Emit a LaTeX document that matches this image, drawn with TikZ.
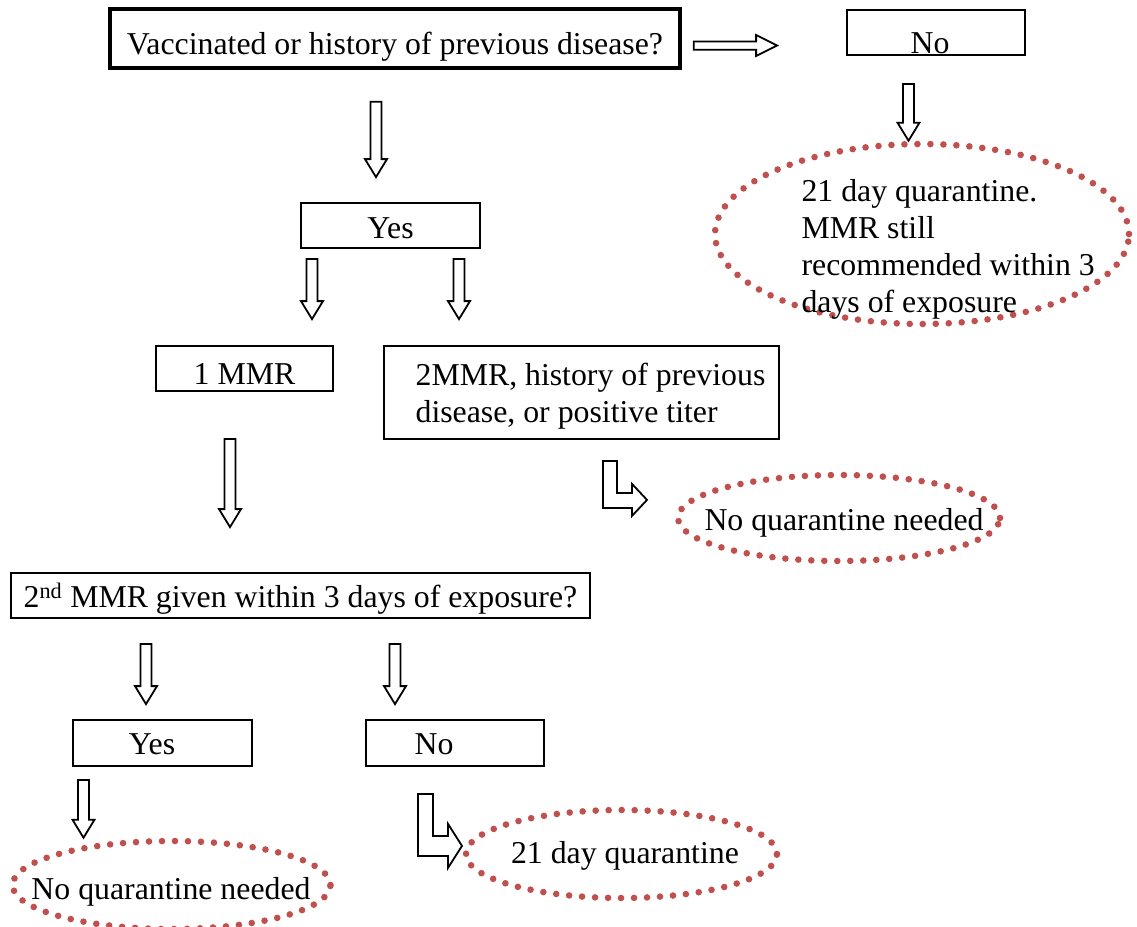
\documentclass[tikz,border=0pt]{standalone}
\usepackage{fontspec}
\setmainfont{Liberation Serif}
\usetikzlibrary{calc,shapes.geometric}
\definecolor{dotred}{RGB}{192,80,77}
\tikzset{
  box/.style={draw, line width=1.8pt, minimum height=45pt, inner sep=0pt},
  blk/.style={draw, line width=1.8pt, fill=white, line join=miter},
  dotell/.style={ellipse, draw=dotred, line width=6.6pt, line cap=round, dash pattern=on 0pt off 13pt, inner sep=0pt},
}
\newcommand\dn[2]{\raisebox{-#1pt}[\height][\depth]{#2}}
\newcommand\bdown[5]{%
  \draw[blk] let \p1=(#2), \p2=(#4) in
  (#1pt-5.5pt,\y1-#3pt) -- (#1pt+5.5pt,\y1-#3pt) -- (#1pt+5.5pt,\y2+#5pt+18pt) -- (#1pt+11pt,\y2+#5pt+18pt)
  -- (#1pt,\y2+#5pt) -- (#1pt-11pt,\y2+#5pt+18pt) -- (#1pt-5.5pt,\y2+#5pt+18pt) -- cycle;}
\begin{document}
\begin{tikzpicture}[x=1pt,y=1pt,font=\fontsize{31.8}{37}\selectfont]
\useasboundingbox (0,0) rectangle (1137,-926);
\clip (0,0) rectangle (1137,-926);
% boxes
\node[box, line width=3.6pt, minimum width=570pt, minimum height=59pt] (main) at (395,-38.5) {\dn{8}{Vaccinated or history of previous disease?}};
\node[box, minimum width=178pt] (noT) at (936,-32.5) {\dn{11}{No\hspace*{12pt}}};
\node[box, minimum width=179pt] (yesT) at (390.5,-225.5) {\dn{3}{Yes}};
\node[box, minimum width=177pt] (mmr1) at (244.5,-368.5) {\dn{5}{1 MMR}};
\node[box, minimum width=395pt, minimum height=93pt] (mmr2) at (581.5,-392.5)
  {\dn{4}{\begin{tabular}{@{}l@{}}\hspace*{18pt}2MMR, history of previous\\\hspace*{18pt}disease, or positive titer\end{tabular}}};
\node[box, minimum width=579pt] (q2) at (300.5,-595.5) {\dn{3}{2\textsuperscript{nd} MMR given within 3 days of exposure?}};
\node[box, minimum width=179pt, minimum height=46pt] (yesB) at (162.5,-743) {\dn{1}{Yes\hspace*{21pt}}};
\node[box, minimum width=178pt, minimum height=46pt] (noB) at (455,-743) {\dn{1}{No\hspace*{42pt}}};
% dotted ellipses
\node[dotell, minimum width=414pt, minimum height=180pt] (e1) at (922,-234) {};
\node[align=left, anchor=west] (e1t) at (798,-249) {21 day quarantine.\\MMR still\\recommended within 3\\days of exposure};
\node[dotell, minimum width=322pt, minimum height=86pt] (e2) at (839,-518) {};
\node (e2t) at (844,-523) {No quarantine needed};
\node[dotell, minimum width=311pt, minimum height=88pt] (e3) at (621.5,-854) {};
\node (e3t) at (625,-856) {21 day quarantine};
\node[dotell, minimum width=318pt, minimum height=88pt] (e4) at (171.5,-885) {};
\node (e4t) at (171,-892) {No quarantine needed};
% block arrows
\draw[blk] let \p1=(main.east), \p2=(noT.west) in
  (\x1+12pt,-41.5) -- (\x2-90pt,-41.5) -- (\x2-90pt,-35) -- (\x2-69pt,-45.5) -- (\x2-90pt,-56) -- (\x2-90pt,-49.8) -- (\x1+12pt,-49.8) -- cycle;
\bdown{376}{main.south}{32}{yesT.north}{25}
\bdown{908.5}{noT.south}{28}{e1.north}{0}
\bdown{312}{yesT.south}{10}{mmr1.north}{26}
\bdown{459}{yesT.south}{10}{mmr2.north}{26}
\bdown{230}{mmr1.south}{47}{q2.north}{45}
\bdown{146}{q2.south}{25}{yesB.north}{15}
\bdown{395}{q2.south}{25}{noB.north}{15}
\bdown{83.5}{yesB.south}{13}{e4.north}{0}
% bent arrows
\coordinate (b1) at ($(mmr2.south)+(21.5,-21)$);
\draw[blk] (b1) -- +(14,0) -- +(14,-32) -- +(29,-32) -- +(29,-23) -- +(44,-39) -- +(29,-55) -- +(29,-47) -- +(0,-47) -- cycle;
\coordinate (b2) at ($(noB.south)+(-37,-27)$);
\draw[blk] (b2) -- +(15,0) -- +(15,-42) -- +(30,-42) -- +(30,-30) -- +(44,-52) -- +(30,-74) -- +(30,-62) -- +(0,-62) -- cycle;
\end{tikzpicture}
\end{document}
